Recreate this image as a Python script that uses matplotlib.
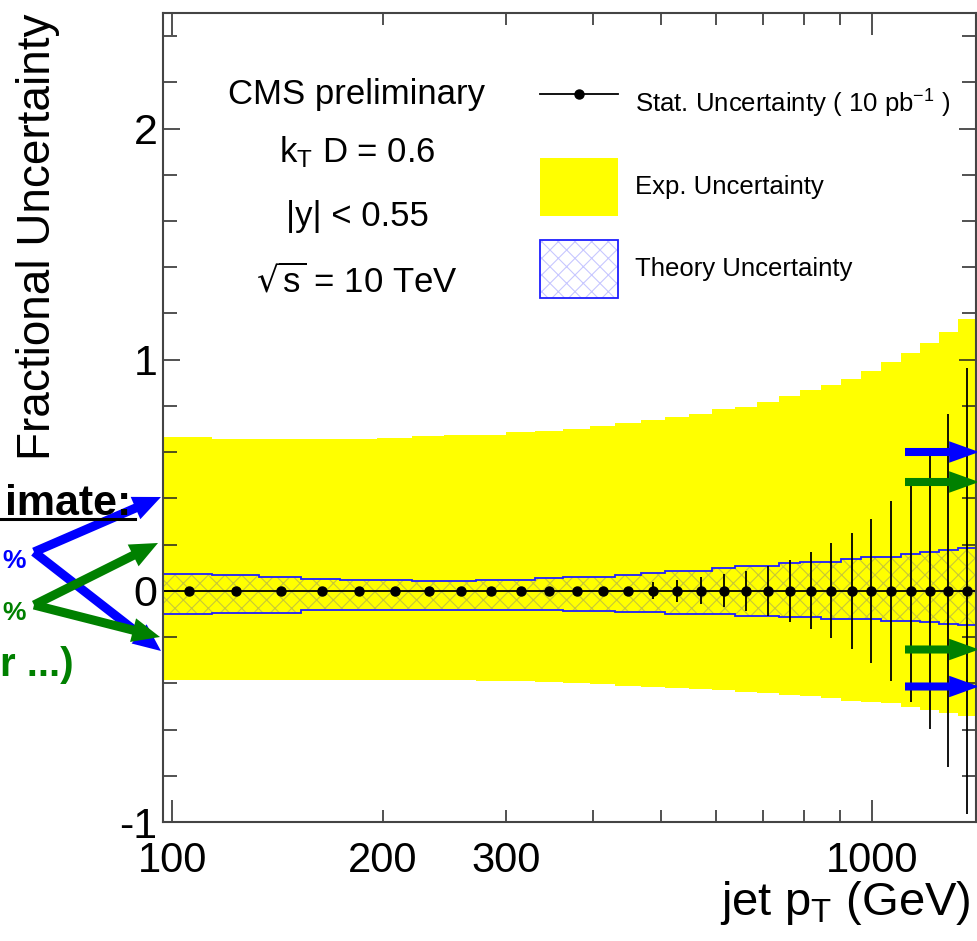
import numpy as np
import matplotlib
matplotlib.use("Agg")
import matplotlib.pyplot as plt
from matplotlib.lines import Line2D
from matplotlib.patches import Patch
from matplotlib.ticker import FixedLocator, FixedFormatter

plt.rcParams["font.family"] = "Liberation Sans"
plt.rcParams["mathtext.default"] = "regular"
plt.rcParams["axes.unicode_minus"] = False
plt.rcParams["hatch.linewidth"] = 0.8

# jet pT binning (GeV)
pt_edges = np.array([97, 114, 133, 153, 174, 196, 220, 245, 272, 300, 330, 362,
                     395, 430, 468, 507, 548, 592, 638, 686, 737, 790, 846, 905,
                     967, 1032, 1101, 1172, 1248, 1327, 1410])

# statistical uncertainty for 10 pb^-1
stat_unc = np.array([0.002, 0.002, 0.003, 0.003, 0.004, 0.004, 0.005, 0.006,
                     0.007, 0.008, 0.010, 0.012, 0.015, 0.018, 0.037, 0.049,
                     0.059, 0.072, 0.088, 0.107, 0.133, 0.167, 0.205, 0.252,
                     0.310, 0.390, 0.483, 0.598, 0.764, 0.966])

# experimental (JES dominated) uncertainty band
exp_up = np.array([0.664, 0.657, 0.657, 0.657, 0.657, 0.662, 0.670, 0.674,
                   0.674, 0.687, 0.693, 0.701, 0.713, 0.726, 0.739, 0.752,
                   0.765, 0.785, 0.795, 0.815, 0.841, 0.869, 0.892, 0.918,
                   0.952, 0.990, 1.029, 1.072, 1.122, 1.174])
exp_down = np.array([-0.385, -0.385, -0.385, -0.385, -0.385, -0.385, -0.385,
                     -0.385, -0.391, -0.391, -0.395, -0.397, -0.404, -0.410,
                     -0.414, -0.421, -0.425, -0.431, -0.437, -0.443, -0.450,
                     -0.457, -0.465, -0.475, -0.480, -0.486, -0.501, -0.515,
                     -0.529, -0.540])

# theory (PDF + scale) uncertainty band
th_up = np.array([0.075, 0.068, 0.061, 0.053, 0.049, 0.049, 0.042, 0.042,
                  0.049, 0.049, 0.056, 0.061, 0.061, 0.069, 0.079, 0.088,
                  0.088, 0.098, 0.108, 0.108, 0.120, 0.127, 0.127, 0.139,
                  0.146, 0.146, 0.159, 0.168, 0.177, 0.185])
th_down = np.array([-0.100, -0.094, -0.094, -0.082, -0.082, -0.082, -0.082,
                    -0.082, -0.082, -0.082, -0.082, -0.085, -0.085, -0.091,
                    -0.091, -0.100, -0.100, -0.100, -0.107, -0.107, -0.114,
                    -0.114, -0.120, -0.123, -0.123, -0.130, -0.130, -0.135,
                    -0.143, -0.146])

W, H = 978, 941


def fig_px(x, y):
    # pixel position (from top-left) -> figure fraction
    return x / W, 1 - y / H


fig = plt.figure(figsize=(W / 100, H / 100), dpi=100)
ax = fig.add_axes([163 / W, (H - 822) / H, (976 - 163) / W, (822 - 13) / H])

centres = 0.5 * (pt_edges[:-1] + pt_edges[1:])
xerr = [centres - pt_edges[:-1], pt_edges[1:] - centres]

hatch_col = (0.0, 0.0, 1.0, 0.22)
ax.stairs(exp_up, pt_edges, baseline=exp_down, fill=True, color="#ffff00",
          lw=0, zorder=1)
ax.stairs(th_up, pt_edges, baseline=th_down, fill=True, facecolor="none",
          edgecolor=hatch_col, hatch="xx", lw=0, zorder=2)
ax.stairs(th_up, pt_edges, baseline=None, color="#1f1fff", lw=1.3, zorder=3)
ax.stairs(th_down, pt_edges, baseline=None, color="#1f1fff", lw=1.3, zorder=3)
ax.errorbar(centres, np.zeros_like(centres), xerr=xerr, yerr=stat_unc,
            fmt="o", color="black", ms=6.5, lw=1.3, capsize=0, zorder=4)

ax.set_xscale("log")
ax.set_xlim(97, 1410)
ax.set_ylim(-1, 2.5)

ax.xaxis.set_major_locator(FixedLocator([100, 1000]))
ax.xaxis.set_minor_locator(FixedLocator([200, 300, 400, 500, 600, 700, 800, 900]))
ax.xaxis.set_major_formatter(FixedFormatter(["100", "1000"]))
ax.xaxis.set_minor_formatter(FixedFormatter(["200", "300", "", "", "", "", "", ""]))
ax.yaxis.set_major_locator(FixedLocator([-1, 0, 1, 2]))
ax.yaxis.set_minor_locator(FixedLocator(np.arange(-0.8, 2.5, 0.2)))
ax.yaxis.set_major_formatter(FixedFormatter(["-1", "0", "1", "2"]))

ax.tick_params(axis="both", which="both", direction="in", top=True, right=True,
               color="#222222", width=1.1)
ax.tick_params(axis="x", which="major", length=16, labelsize=30, pad=14)
ax.tick_params(axis="x", which="minor", length=8.5, labelsize=30, pad=14)
ax.tick_params(axis="y", which="major", length=12, labelsize=31, pad=4)
ax.tick_params(axis="y", which="minor", length=10)
for sp in ax.spines.values():
    sp.set_linewidth(1.5)
    sp.set_color("#444444")
    sp.set_zorder(6)

ax.set_ylabel("Fractional Uncertainty", fontsize=33, loc="top")
ax.yaxis.set_label_coords(-0.127, 1.0)
ax.set_xlabel("jet p$_{T}$ (GeV)", fontsize=34, loc="right")
ax.xaxis.set_label_coords(0.993, -0.07)

# analysis labels
info = [("CMS preliminary", 104), ("k$_{T}$ D = 0.6", 162),
        ("|y| < 0.55", 226), (r"$\sqrt{s}$ = 10 TeV", 292)]
for txt, yb in info:
    fig.text(*fig_px(357, yb), txt, fontsize=25, ha="center", va="baseline")

# legend
stat_h = Line2D([], [], color="black", marker="o", ms=6.5, lw=1.3)
exp_h = Patch(facecolor="#ffff00", lw=0)
th_h = (Patch(facecolor="white", edgecolor=hatch_col, hatch="xx", lw=0),
        Patch(facecolor="none", edgecolor="#1f1fff", lw=1.3))
ax.legend([stat_h, exp_h, th_h],
          ["Stat. Uncertainty ( 10 pb$^{-1}$ )", "Exp. Uncertainty",
           "Theory Uncertainty"],
          loc="upper left", bbox_to_anchor=fig_px(540, 76),
          bbox_transform=fig.transFigure, frameon=False, fontsize=18.5,
          borderpad=0, borderaxespad=0, handlelength=3.03, handleheight=3.1,
          labelspacing=0.93, handletextpad=0.65)


def arrow(tail, tip, color, tail_w, head_w, head_l):
    ax.annotate("", xy=(tip[0], H - tip[1]), xytext=(tail[0], H - tail[1]),
                xycoords="figure pixels", annotation_clip=False,
                arrowprops=dict(arrowstyle=f"simple,head_length={head_l},"
                                f"head_width={head_w},tail_width={tail_w}",
                                mutation_scale=10, color=color, lw=0,
                                shrinkA=0, shrinkB=0),
                zorder=10)


blue, green = "#0000ff", "#008000"
# markers for the band edges on the right
for yy, c in [(452, blue), (482, green), (649.5, green), (686.5, blue)]:
    arrow((905, yy), (979, yy), c, 0.58, 1.55, 2.15)

# arrows from the side notes
arrow((34, 552), (161, 497), blue, 0.65, 1.75, 2.0)
arrow((34, 552), (161, 651), blue, 0.65, 1.75, 2.0)
arrow((34, 605), (158, 543), green, 0.65, 1.75, 2.0)
arrow((34, 605), (160, 637), green, 0.65, 1.75, 2.0)

fig.text(*fig_px(131, 515), "imate:", fontsize=31, fontweight="bold",
         ha="right", va="baseline")
fig.add_artist(Line2D([0, 135 / W], [1 - 519 / H] * 2, color="black", lw=2.2))
fig.text(*fig_px(2, 568), "%", fontsize=19, fontweight="bold", color=blue,
         ha="left", va="baseline")
fig.text(*fig_px(2, 620), "%", fontsize=19, fontweight="bold", color=green,
         ha="left", va="baseline")
fig.text(*fig_px(0, 676), "r ...)", fontsize=29, fontweight="bold",
         color=green, ha="left", va="baseline")

fig.savefig("out.png", dpi=100)
